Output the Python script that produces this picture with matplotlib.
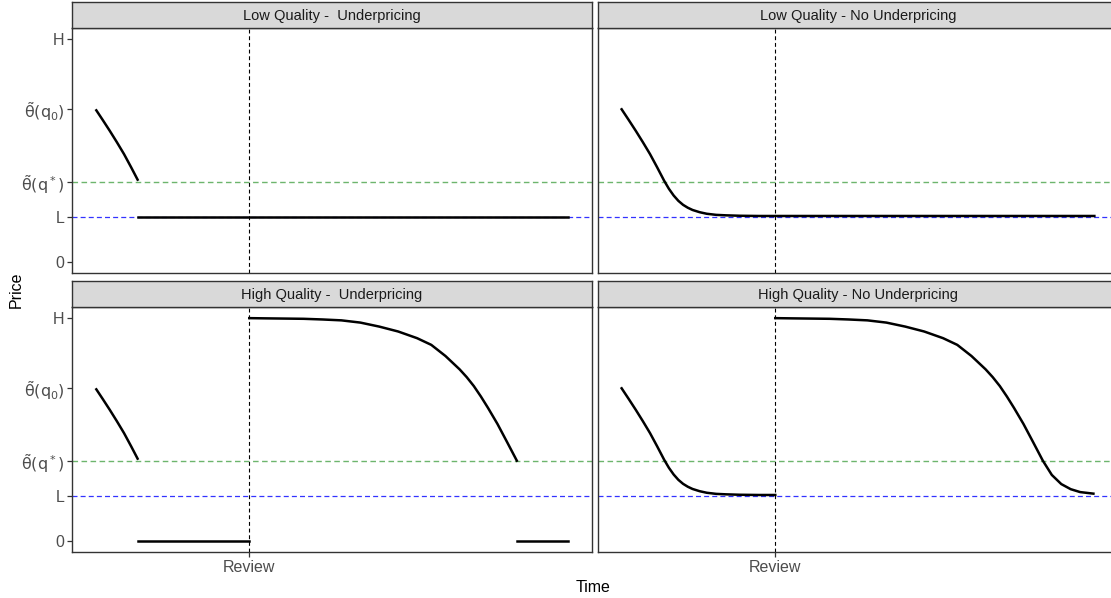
import matplotlib
matplotlib.use("Agg")
import matplotlib.pyplot as plt

plt.rcParams['font.family'] = ['Liberation Sans', 'DejaVu Sans']
plt.rcParams['mathtext.fontset'] = 'dejavusans'

# price levels (H normalised to 1)
ZERO, L_LEVEL, Q_STAR, Q0, H_LEVEL = 0.0, 0.203, 0.36, 0.685, 1.0
REVIEW = 0.325
ytick_vals = [ZERO, L_LEVEL, Q_STAR, Q0, H_LEVEL]
ytick_labels = ['0', 'L', r'$\tilde{\mathrm{\theta}}(\mathrm{q}^*)$',
                r'$\tilde{\mathrm{\theta}}(\mathrm{q}_0)$', 'H']

# pre-review decay from theta(q0)
decay_t = [0.0, 0.015, 0.03, 0.045, 0.06, 0.075, 0.09, 0.1, 0.11, 0.12, 0.13,
           0.14, 0.15, 0.165, 0.18, 0.2, 0.22, 0.25, 0.29, 0.325]
decay_p = [0.685, 0.637, 0.588, 0.537, 0.484, 0.425, 0.364, 0.328, 0.298, 0.274, 0.256,
           0.243, 0.233, 0.223, 0.216, 0.211, 0.209, 0.207, 0.206, 0.206]

# long decay after the review (high quality)
high_t = [0.325, 0.36, 0.40, 0.44, 0.48, 0.52, 0.56, 0.60, 0.64, 0.68, 0.71, 0.74,
          0.77, 0.785, 0.80, 0.815, 0.83, 0.85, 0.87, 0.891, 0.91, 0.93, 0.95, 0.97, 0.998]
high_p = [1.0, 0.999, 0.998, 0.997, 0.994, 0.99, 0.98, 0.962, 0.94, 0.91, 0.88, 0.83,
          0.77, 0.735, 0.695, 0.648, 0.597, 0.525, 0.445, 0.36, 0.296, 0.255, 0.232, 0.219, 0.212]

T_JUMP = 0.09      # decay reaches theta(q*) (underpricing)
T_STOP = 0.891     # high curve reaches theta(q*)
T_END = 1.0

titles = ['Low Quality -  Underpricing', 'Low Quality - No Underpricing',
          'High Quality -  Underpricing', 'High Quality - No Underpricing']


def cut(ts, ps, t0, t1):
    pts = [(t, p) for t, p in zip(ts, ps) if t0 <= t <= t1]
    return [a for a, _ in pts], [b for _, b in pts]


W, H = 1111, 598
fig = plt.figure(figsize=(W / 100, H / 100), dpi=100)

panels = {
    0: (72, 28), 1: (598, 28),
    2: (72, 307), 3: (598, 307),
}
pw, ph, sh = 520, 245, 26
border = '#333333'
lw = 1.8

for i, (px, py) in panels.items():
    ax = fig.add_axes([px / W, 1 - (py + ph) / H, pw / W, ph / H])
    sax = fig.add_axes([px / W, 1 - py / H, pw / W, sh / H])
    sax.set_facecolor('#D9D9D9')
    sax.set_xticks([]); sax.set_yticks([])
    for s in sax.spines.values():
        s.set_color(border); s.set_linewidth(1.0)
    sax.text(0.5, 0.47, titles[i], ha='center', va='center', fontsize=10.5,
             color='#1A1A1A', transform=sax.transAxes)

    ax.axhline(Q_STAR, color='#6DB56D', ls=(0, (4, 2.5)), lw=1.0)
    ax.axhline(L_LEVEL, color='#3333FF', ls=(0, (4, 2.5)), lw=0.9)
    ax.axvline(REVIEW, color='black', ls=(0, (3.5, 2.5)), lw=0.8)

    low = i < 2
    under = i % 2 == 0
    if under:
        t, p = cut(decay_t, decay_p, 0, T_JUMP)
        ax.plot(t, p, color='black', lw=lw, solid_capstyle='butt')
        if low:
            ax.plot([T_JUMP, T_END], [L_LEVEL, L_LEVEL], color='black', lw=lw)
        else:
            ax.plot([T_JUMP, REVIEW], [ZERO, ZERO], color='black', lw=lw)
            t, p = cut(high_t, high_p, REVIEW, T_STOP)
            ax.plot(t, p, color='black', lw=lw)
            ax.plot([T_STOP, T_END], [ZERO, ZERO], color='black', lw=lw)
    else:
        if low:
            t = decay_t + [T_END]
            p = decay_p + [decay_p[-1]]
            ax.plot(t, p, color='black', lw=lw)
        else:
            ax.plot(decay_t, decay_p, color='black', lw=lw)
            ax.plot(high_t, high_p, color='black', lw=lw)

    ax.set_xlim(-0.05, 1.05)
    ax.set_ylim(-0.05, 1.05)
    ax.set_yticks(ytick_vals)
    if px == 72:
        ax.set_yticklabels(ytick_labels, fontsize=11.5, color='#4D4D4D')
    else:
        ax.tick_params(axis='y', left=False, labelleft=False)
    ax.set_xticks([REVIEW])
    if py == 307:
        ax.set_xticklabels(['Review'], fontsize=11.5, color='#4D4D4D')
    else:
        ax.tick_params(axis='x', bottom=False, labelbottom=False)
    ax.tick_params(length=3.5, width=0.9, color=border, pad=2)
    for s in ax.spines.values():
        s.set_color(border); s.set_linewidth(1.0)

fig.text(593 / W, 1 - 587 / H, 'Time', ha='center', va='center', fontsize=11.5)
fig.text(16 / W, 1 - 290 / H, 'Price', ha='center', va='center', fontsize=11.5,
         rotation=90)

fig.savefig('out.png', dpi=100)
